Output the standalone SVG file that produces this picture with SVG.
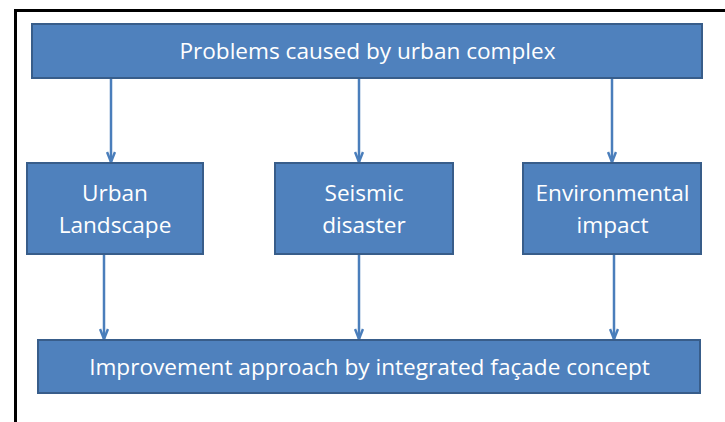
<svg xmlns="http://www.w3.org/2000/svg" width="725" height="422" viewBox="0 0 725 422">
<defs>
<style>
.box{fill:#4F81BD;stroke:#385D8A;stroke-width:2}
.t{fill:#fff;font-family:"Open Sans","Liberation Sans",sans-serif;font-size:22.6px;text-anchor:middle}
.c{stroke:#4A7EBB;stroke-width:2.5;fill:none;marker-end:url(#ah)}
</style>
<marker id="ah" viewBox="0 0 12 10" refX="11" refY="5" markerWidth="12" markerHeight="10" markerUnits="userSpaceOnUse" orient="auto">
<path d="M1,1 L11,5 L1,9" fill="none" stroke="#4A7EBB" stroke-width="2.5"/>
</marker>
</defs>
<rect width="725" height="422" fill="#fff"/>
<path d="M15.5,422 V10.5 H725" fill="none" stroke="#000" stroke-width="3"/>
<g id="connectors">
<line class="c" x1="111" y1="78" x2="111" y2="162"/>
<line class="c" x1="359" y1="78" x2="359" y2="162"/>
<line class="c" x1="612" y1="78" x2="612" y2="162"/>
<line class="c" x1="104" y1="254" x2="104" y2="339"/>
<line class="c" x1="359" y1="254" x2="359" y2="339"/>
<line class="c" x1="614" y1="254" x2="614" y2="339"/>
</g>
<g id="top">
<rect class="box" x="32" y="24" width="670" height="54"/>
<text class="t" x="367.5" y="59">Problems caused by urban complex</text>
</g>
<g id="urban">
<rect class="box" x="27" y="163" width="176" height="91"/>
<text class="t" x="115" y="201">Urban</text>
<text class="t" x="115" y="233">Landscape</text>
</g>
<g id="seismic">
<rect class="box" x="275" y="163" width="178" height="91"/>
<text class="t" x="364" y="201">Seismic</text>
<text class="t" x="364" y="233">disaster</text>
</g>
<g id="env">
<rect class="box" x="523" y="163" width="178" height="91"/>
<text class="t" x="612.5" y="201">Environmental</text>
<text class="t" x="612.5" y="233">impact</text>
</g>
<g id="bottom">
<rect class="box" x="38" y="340" width="662" height="53"/>
<text class="t" x="369.5" y="375">Improvement approach by integrated façade concept</text>
</g>
</svg>
